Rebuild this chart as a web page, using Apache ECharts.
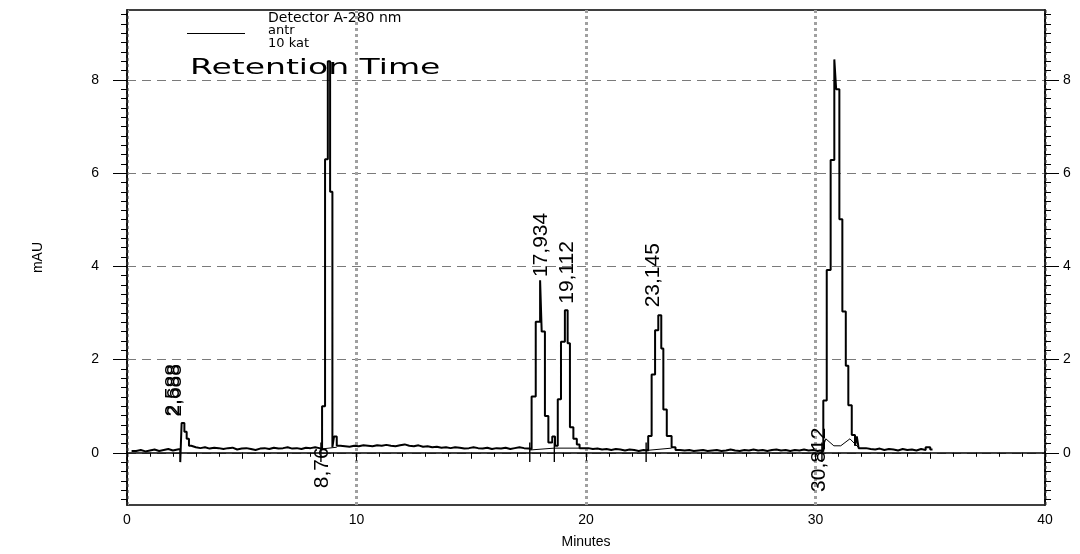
<!DOCTYPE html>
<html><head><meta charset="utf-8">
<script src="https://cdn.jsdelivr.net/npm/echarts@6/dist/echarts.min.js"></script>
<style>html,body{margin:0;padding:0;background:#fff}#c{width:1080px;height:554px}</style>
</head><body><div id="c"></div>
<script>
// ---- axis ticks / labels ----
const xTicks = [0, 10, 20, 30, 40];
const xMidTicks = [5, 15, 25, 35];
const yTicks = [0, 2, 4, 6, 8];
const yMin = -1.12, yMax = 9.5;

// ---- chromatogram trace: [minutes, mAU] ----
const base0 = [[0.2,0.04],[0.4,0.06],[0.6,0.03],[0.8,0.05],[1.0,0.07],[1.2,0.04],[1.4,0.06],[1.6,0.08],[1.8,0.05],[2.0,0.07],[2.2,0.08]];
const peakA = [[2.32,-0.2],[2.38,0.64],[2.5,0.45],[2.6,0.3],[2.7,0.15],[2.8,0.12]];
const base1 = [[3.0,0.1],[3.2,0.12],[3.4,0.09],[3.6,0.11],[3.8,0.1],[4.0,0.08],[4.2,0.1],[4.4,0.11],[4.6,0.07],[4.8,0.09],[5.0,0.1],[5.2,0.08],[5.4,0.06],[5.6,0.09],[5.8,0.1],[6.0,0.08],[6.2,0.11],[6.4,0.09],[6.6,0.1],[6.8,0.12],[7.0,0.09],[7.2,0.1],[7.4,0.08],[7.6,0.11],[7.8,0.1],[8.0,0.12],[8.2,0.1],[8.38,0.08]];
const peakB = [[8.5,1.0],[8.63,6.3],[8.75,8.4],[8.85,5.6],[8.95,0.12],[9.02,0.35],[9.14,0.15]];
const base2 = [[9.3,0.14],[9.5,0.13],[9.7,0.15],[9.9,0.14],[10.1,0.16],[10.3,0.15],[10.5,0.14],[10.7,0.16],[10.9,0.15],[11.1,0.17],[11.3,0.15],[11.5,0.14],[11.7,0.16],[11.9,0.18],[12.1,0.15],[12.3,0.14],[12.5,0.16],[12.7,0.13],[12.9,0.14],[13.1,0.12],[13.3,0.13],[13.5,0.11],[13.7,0.12],[13.9,0.1],[14.1,0.12],[14.3,0.11],[14.5,0.09],[14.7,0.1],[14.9,0.12],[15.1,0.1],[15.3,0.09],[15.5,0.11],[15.7,0.08],[15.9,0.1],[16.1,0.09],[16.3,0.11],[16.5,0.08],[16.7,0.1],[16.9,0.12],[17.1,0.1],[17.3,0.09],[17.5,0.08]];
const peakCD = [[17.63,1.21],[17.81,2.81],[18.0,3.7],[18.07,2.6],[18.21,0.79],[18.36,0.22],[18.53,0.35],[18.65,0.15],[18.77,1.15],[18.91,2.38],[19.08,3.06],[19.2,2.35],[19.3,0.55],[19.45,0.3],[19.6,0.18],[19.72,0.1]];
const base3 = [[19.9,0.1],[20.1,0.08],[20.3,0.09],[20.5,0.07],[20.7,0.08],[20.9,0.06],[21.1,0.08],[21.3,0.07],[21.5,0.05],[21.7,0.07],[21.9,0.06],[22.1,0.04],[22.3,0.06],[22.5,0.05]];
const peakE = [[22.71,0.36],[22.86,1.68],[23.01,2.63],[23.15,2.95],[23.28,2.24],[23.37,0.93],[23.52,0.36],[23.73,0.12]];
const base4 = [[23.9,0.06],[24.1,0.05],[24.3,0.06],[24.5,0.04],[24.7,0.05],[24.9,0.06],[25.1,0.04],[25.3,0.05],[25.5,0.06],[25.7,0.04],[25.9,0.05],[26.1,0.07],[26.3,0.05],[26.5,0.04],[26.7,0.06],[26.9,0.05],[27.1,0.07],[27.3,0.05],[27.5,0.06],[27.7,0.04],[27.9,0.06],[28.1,0.07],[28.3,0.05],[28.5,0.06],[28.7,0.04],[28.9,0.06],[29.1,0.05],[29.3,0.07],[29.5,0.05],[29.7,0.06],[29.9,0.04],[30.1,0.05],[30.2,0.03]];
const peakF = [[30.34,1.12],[30.49,3.92],[30.66,6.28],[30.82,8.44],[30.9,7.8],[31.04,5.01],[31.17,3.03],[31.32,1.87],[31.43,1.02],[31.58,0.38],[31.72,0.15],[31.8,0.35],[31.88,0.1]];
const base5 = [[32.0,0.1],[32.2,0.08],[32.4,0.07],[32.6,0.09],[32.8,0.06],[33.0,0.08],[33.2,0.07],[33.4,0.05],[33.6,0.08],[33.8,0.06],[34.0,0.07],[34.2,0.05],[34.4,0.08],[34.6,0.06],[34.8,0.12],[35.0,0.07],[35.1,0.08]];

// ---- integration events ----
const eventTimes = [8.45, 17.55, 18.62, 22.62, 30.28];
const eventLow = -0.2, eventHigh = 0.22;
const intBaseC = [[17.55,0.06],[18.62,0.1],[19.72,0.1]];
const intBaseE = [[22.62,0.05],[23.73,0.1]];
const intBaseF = [[30.28,0.05],[30.45,0.3],[30.8,0.15],[31.1,0.15],[31.5,0.3],[31.9,0.1]];
const intBaseB = [[8.45,0.08],[9.14,0.12]];

// ---- peak annotations: [label, minutes, mAU] ----
const peakLabels = [["2,588",2.02,1.34],["2,688",2.1,1.34],["8,76",8.52,-0.32],["17,934",18.04,4.46],["19,112",19.19,3.87],["23,145",22.94,3.81],["30,812",30.17,-0.15]];

const trace = [].concat(base0, peakA, base1, peakB, base2, peakCD, base3, peakE, base4, peakF, base5);

const minorY = [];
for (let v = -1.0; v <= 9.41; v += 0.2) { const r = Math.round(v * 10) / 10; if (!yTicks.includes(r)) minorY.push(r); }

const eventData = [];
eventTimes.forEach(t => { eventData.push([t, eventLow], [t, eventHigh], '-'); });
const intData = [].concat(intBaseB, ['-'], intBaseC, ['-'], intBaseE, ['-'], intBaseF);

const chart = echarts.init(document.getElementById('c'), null, {renderer: 'canvas'});
const axisFont = {color: '#000', fontSize: 14, fontFamily: 'Liberation Sans, Arial, sans-serif'};
function yAx(pos, major) {
  return {
    type: 'value', position: pos, min: yMin, max: yMax,
    axisLine: {show: major, lineStyle: {color: '#000', width: 1.5}},
    axisTick: {show: true, inside: false, length: major ? 14 : 6, customValues: major ? yTicks : minorY, lineStyle: {color: '#000', width: 1}},
    axisLabel: {show: major, customValues: yTicks, margin: pos === 'left' ? 28 : 18, ...axisFont},
    splitLine: {show: major && pos === 'left', lineStyle: {color: '#7a7a7a', type: [9, 6], width: 1}},
    name: major && pos === 'left' ? 'mAU' : '', nameLocation: 'middle', nameGap: 82,
    nameTextStyle: {color: '#000', fontSize: 14, fontFamily: 'Liberation Sans, Arial, sans-serif'}
  };
}
chart.setOption({
  animation: false,
  backgroundColor: '#fff',
  grid: {left: 127, right: 35, top: 10, bottom: 44, show: true, borderColor: '#000', borderWidth: 1.5, backgroundColor: 'transparent'},
  xAxis: [{
    type: 'value', min: 0, max: 40, interval: 10,
    axisLine: {lineStyle: {color: '#000', width: 1.5}},
    axisTick: {length: 8, lineStyle: {color: '#000'}},
    minorTick: {show: true, splitNumber: 10, length: 4, lineStyle: {color: '#000'}},
    axisLabel: {margin: 8, ...axisFont},
    splitLine: {show: true, lineStyle: {color: '#a0a0a0', type: [3, 3], width: 3}},
    name: 'Minutes', nameLocation: 'middle', nameGap: 30,
    nameTextStyle: {color: '#000', fontSize: 14, fontFamily: 'Liberation Sans, Arial, sans-serif'}
  }, {
    type: 'value', min: 0, max: 40, position: 'bottom',
    axisLine: {show: false}, axisLabel: {show: false}, splitLine: {show: false},
    axisTick: {show: true, length: 6, customValues: xMidTicks, lineStyle: {color: '#000'}}
  }],
  yAxis: [yAx('left', true), yAx('left', false), yAx('right', true), yAx('right', false)],
  series: [{
    type: 'line', data: trace, step: 'end', showSymbol: false, xAxisIndex: 0, yAxisIndex: 0,
    lineStyle: {color: '#000', width: 2}, z: 5
  }, {
    type: 'line', data: eventData, showSymbol: false, connectNulls: false,
    lineStyle: {color: '#000', width: 1.4}, z: 4
  }, {
    type: 'line', data: intData, showSymbol: false, connectNulls: false,
    lineStyle: {color: '#000', width: 1}, z: 4
  }, {
    type: 'scatter', data: peakLabels.map(p => [p[1], p[2], p[0]]), symbolSize: 0, z: 6,
    itemStyle: {opacity: 1},
    label: {show: true, position: 'inside', rotate: 90, formatter: p => p.value[2], opacity: 1,
      color: '#000', fontSize: 21, fontFamily: 'Liberation Sans, Arial, sans-serif'}
  }],
  graphic: [
    {type: 'line', shape: {x1: 187, y1: 33.5, x2: 245, y2: 33.5}, style: {stroke: '#000', lineWidth: 1}},
    {type: 'text', x: 268, y: 18, style: {text: 'Detector A-280 nm', fill: '#000', font: '14px "DejaVu Sans"', verticalAlign: 'middle'}},
    {type: 'text', x: 268, y: 31, style: {text: 'antr', fill: '#000', font: '13px "DejaVu Sans"', verticalAlign: 'middle'}},
    {type: 'text', x: 268, y: 44, style: {text: '10 kat', fill: '#000', font: '13px "DejaVu Sans"', verticalAlign: 'middle'}},
    {type: 'text', x: 190, y: 68, scaleX: 1.5, style: {text: 'Retention Time', fill: '#000', font: '22px "DejaVu Sans"', verticalAlign: 'middle'}}
  ]
});
</script></body></html>
